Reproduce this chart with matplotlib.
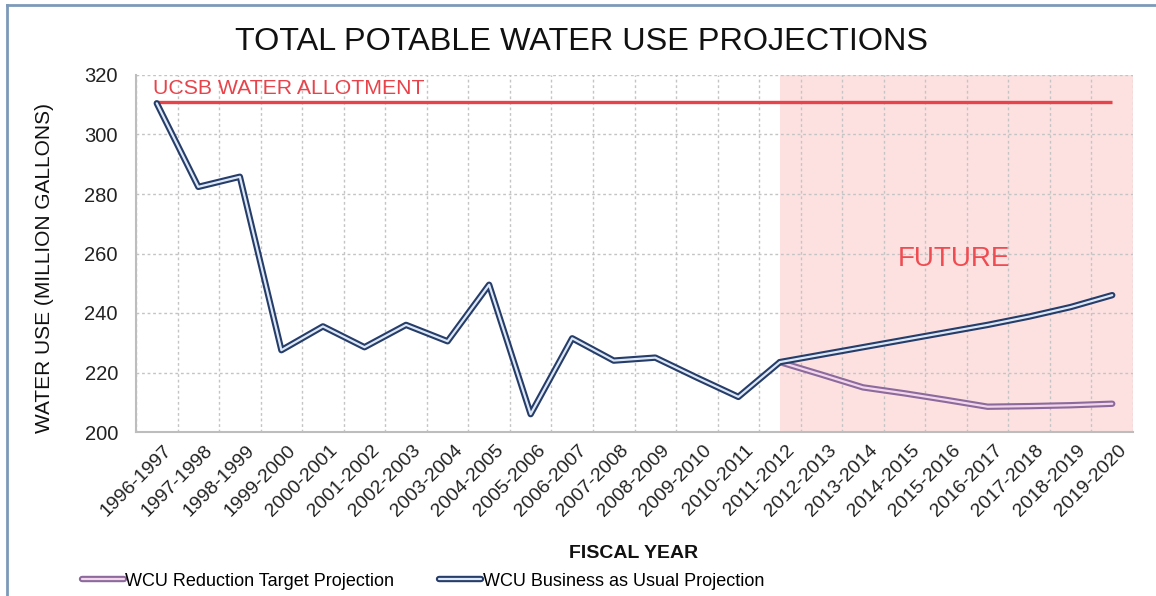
import matplotlib.pyplot as plt
import matplotlib.patheffects as pe
from matplotlib.lines import Line2D
import numpy as np

plt.rcParams['font.family'] = ['Liberation Sans', 'DejaVu Sans']

# fiscal years on the x axis
years = ["1996-1997", "1997-1998", "1998-1999", "1999-2000", "2000-2001",
         "2001-2002", "2002-2003", "2003-2004", "2004-2005", "2005-2006",
         "2006-2007", "2007-2008", "2008-2009", "2009-2010", "2010-2011",
         "2011-2012", "2012-2013", "2013-2014", "2014-2015", "2015-2016",
         "2016-2017", "2017-2018", "2018-2019", "2019-2020"]

# water use, million gallons
bau = [310.5, 282.4, 285.8, 227.5, 235.5, 228.5, 236, 230.5, 249.5, 206,
       231.5, 224, 225, 218.3, 211.8, 223.5, 226, 228.5, 231, 233.5,
       236, 238.8, 242, 246]
reduction_years = years[15:]
reduction = [223.5, 219.3, 215, 213, 210.8, 208.5, 208.7, 209, 209.5]
allotment = 311
future_start = "2011-2012"

yticks = [200, 220, 240, 260, 280, 300, 320]

fig = plt.figure(figsize=(11.56, 5.96), dpi=100)
ax = fig.add_axes([136 / 1156, 1 - 432 / 596, 997 / 1156, 357 / 596])

x = np.arange(len(years))
xr = np.arange(years.index(reduction_years[0]), len(years))

# future shading
ax.axvspan(years.index(future_start), len(years) - 0.5, color="#fde1e1", zorder=0, lw=0)

# allotment line
ax.plot([0, len(years) - 1], [allotment, allotment], color="#e8434a", lw=2.4,
        solid_capstyle="butt", zorder=3)
ax.text(-0.1, 313.6, "UCSB WATER ALLOTMENT", color="#e8434a", fontsize=15.3,
        ha="left", va="baseline", zorder=4)
ax.text(19.2, 258, "FUTURE", color="#ef4b50", fontsize=20, ha="center", va="center")

# double-line style series
red_line, = ax.plot(xr, reduction, color="#f3d6ec", lw=1.6, zorder=5,
                    solid_capstyle="round", solid_joinstyle="round",
                    path_effects=[pe.Stroke(linewidth=4.6, foreground="#8c6a9c"), pe.Normal()])
bau_line, = ax.plot(x, bau, color="#dde8f6", lw=1.6, zorder=6,
                    solid_capstyle="round", solid_joinstyle="round",
                    path_effects=[pe.Stroke(linewidth=4.6, foreground="#263d6a"), pe.Normal()])

ax.set_xlim(-0.5, len(years) - 0.5)
ax.set_ylim(200, 320)
ax.set_yticks(yticks)
ax.set_yticklabels([str(v) for v in yticks], fontsize=14.5, color="#222222")
# labels sit slightly right of the category centre, as in the original
ax.set_xticks(x + 0.29)
ax.set_xticklabels(years, rotation=45, ha="right", va="center",
                   rotation_mode="anchor", fontsize=14, color="#222222")
ax.set_xticks(np.arange(len(years) + 1) - 0.5, minor=True)
ax.tick_params(axis="x", which="both", length=0, pad=11.5)
ax.tick_params(axis="y", length=0, pad=13)

ax.grid(True, axis="y", which="major", color="#c4c4c4", lw=1, ls=(0, (2, 2)))
ax.grid(True, axis="x", which="minor", color="#c4c4c4", lw=1, ls=(0, (2, 2)))
ax.grid(False, axis="x", which="major")
ax.set_axisbelow(True)
for s in ["top", "right"]:
    ax.spines[s].set_visible(False)
for s in ["left", "bottom"]:
    ax.spines[s].set_color("#bdbdbd")
    ax.spines[s].set_linewidth(1.5)

fig.text(0.503, 1 - 50 / 596, "TOTAL POTABLE WATER USE PROJECTIONS", fontsize=23.3,
         ha="center", va="baseline", color="#111111")
fig.text(634 / 1156, 1 - 558 / 596, "FISCAL YEAR", fontsize=14, fontweight="bold",
         ha="center", va="baseline", color="#111111")
fig.text(45 / 1156, 1 - 268 / 596, "WATER USE (MILLION GALLONS)", fontsize=15,
         rotation=90, ha="center", va="center", color="#111111")

fig.legend([red_line, bau_line],
           ["WCU Reduction Target Projection", "WCU Business as Usual Projection"],
           loc="center left", bbox_to_anchor=(82 / 1156, 1 - 581 / 596), ncol=2,
           frameon=False, fontsize=13, handlelength=2.3, handletextpad=0.1,
           columnspacing=2.5, borderpad=0, borderaxespad=0)

# frame around the figure
fig.add_artist(Line2D([7 / 1156, 1.0], [1 - 5 / 596] * 2, color="#7d99b8", lw=2))
fig.add_artist(Line2D([7 / 1156] * 2, [0, 1 - 5 / 596], color="#7d99b8", lw=2))

fig.savefig("out.png", dpi=100)
